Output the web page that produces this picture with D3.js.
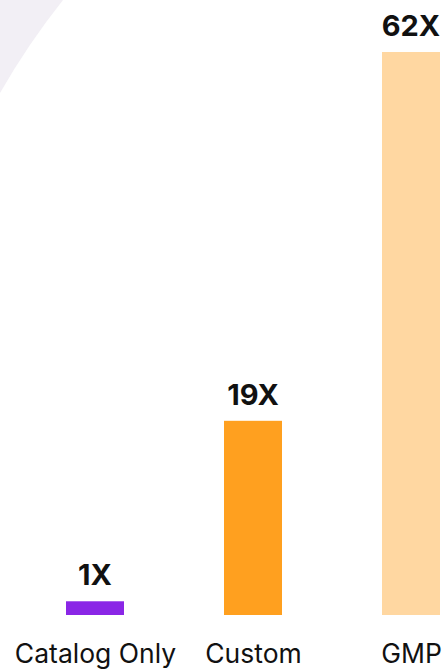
<!DOCTYPE html>
<html>
<head>
<meta charset="utf-8">
<script src="https://cdn.jsdelivr.net/npm/d3@7"></script>
<style>
  html, body { margin: 0; padding: 0; background: #ffffff; }
  svg { display: block; }
</style>
</head>
<body>
<svg id="chart" width="444" height="669"></svg>
<script>
// Data
const categories = ["Catalog Only", "Custom", "GMP"];
const multipliers = [1, 19, 62];
const valueLabels = ["1X", "19X", "62X"];
const barColors = ["#8a26e6", "#ffa01f", "#ffd7a1"];

const W = 444, H = 669;
const svg = d3.select("#chart");

// Soft decorative wedge in the top-left corner
svg.append("path")
  .attr("d", "M0,0 L63,0 Q28,44 0,93 Z")
  .attr("fill", "#f2eff5");

const baseline = 615;
const barWidth = 58;

const x = d3.scalePoint()
  .domain(categories)
  .range([95, 411]);

const y = d3.scalePow()
  .exponent(0.9)
  .domain([0, d3.max(multipliers)])
  .range([baseline, 52]);

const rows = categories.map((c, i) => ({
  cat: c, value: multipliers[i], label: valueLabels[i], color: barColors[i]
}));

const g = svg.append("g");

g.selectAll("rect.bar")
  .data(rows)
  .join("rect")
  .attr("class", "bar")
  .attr("x", d => x(d.cat) - barWidth / 2)
  .attr("y", d => y(d.value))
  .attr("width", barWidth)
  .attr("height", d => baseline - y(d.value))
  .attr("fill", d => d.color);

g.selectAll("text.value")
  .data(rows)
  .join("text")
  .attr("class", "value")
  .attr("x", d => x(d.cat))
  .attr("y", d => y(d.value) - 16)
  .attr("text-anchor", "middle")
  .attr("font-family", "Inter, 'Noto Sans', sans-serif")
  .attr("font-weight", 700)
  .attr("font-size", 29)
  .attr("fill", "#111111")
  .text(d => d.label);

// Category axis labels
const axis = d3.axisBottom(x).tickSize(0).tickPadding(0);
const axisG = svg.append("g")
  .attr("transform", "translate(0,663)")
  .call(axis);
axisG.select(".domain").remove();
axisG.selectAll("text")
  .attr("dy", 0)
  .attr("y", 0)
  .attr("font-family", "Inter, 'Noto Sans', sans-serif")
  .attr("font-size", 26.5)
  .attr("fill", "#111111");
</script>
</body>
</html>
